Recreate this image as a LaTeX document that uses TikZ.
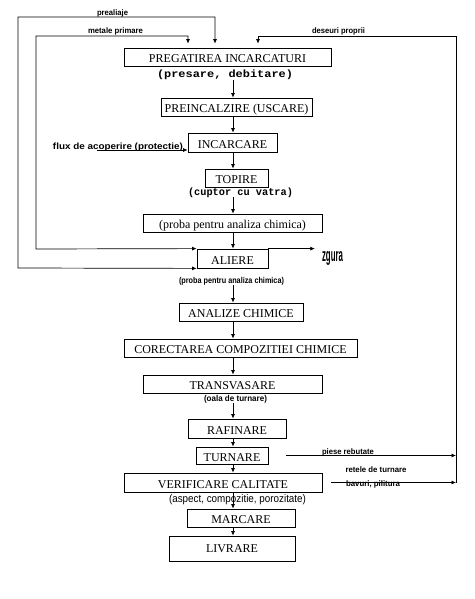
\documentclass[tikz,border=0pt]{standalone}
\usepackage{fontspec}
\setmainfont{Liberation Serif}
\newfontfamily\lsans{Liberation Sans}
\newfontfamily\lmono{Liberation Mono}
\usetikzlibrary{arrows.meta}
\newcommand\fitw[2]{\resizebox{#1}{\height}{#2}}
\begin{document}
\begin{tikzpicture}[x=1pt,y=-1pt,
  box/.style={draw, line width=0.8pt, inner sep=0pt, text height=11pt, text depth=0pt,
    font=\fontsize{12}{12}\selectfont},
  lbl/.style={inner sep=0pt, anchor=base, font=\lsans\bfseries\fontsize{8}{8}\selectfont},
  arr/.style={line width=0.7pt, -{Latex[length=4.5pt,width=4pt]}},
  darr/.style={line width=0.7pt, {Latex[length=4.5pt,width=4pt]}-{Latex[length=4.5pt,width=4pt]}},
]
\useasboundingbox (0,0) rectangle (474,599);
\fill[white] (0,0) rectangle (474,599);

% boxes
\node[box, minimum width=207pt, minimum height=18pt] (preg) at (227.5,57) {PREGATIREA INCARCATURI};
\node[box, minimum width=151pt, minimum height=18pt] (prein) at (236.5,107) {PREINCALZIRE (USCARE)};
\node[box, minimum width=89pt, minimum height=19pt] (incarc) at (232.5,142.5) {INCARCARE};
\node[box, minimum width=63pt, minimum height=18pt] (topire) at (236.5,178) {TOPIRE};
\node[box, minimum width=179pt, minimum height=18pt] (proba) at (232.5,223) {(proba pentru analiza chimica)};
\node[box, minimum width=71pt, minimum height=19pt] (aliere) at (232.5,258.5) {ALIERE};
\node[box, minimum width=124pt, minimum height=18pt] (analize) at (241,312) {ANALIZE CHIMICE};
\node[box, minimum width=233pt, minimum height=18pt] (corect) at (240.5,348) {CORECTAREA COMPOZITIEI CHIMICE};
\node[box, minimum width=179pt, minimum height=18pt] (transv) at (232.5,384) {TRANSVASARE};
\node[box, minimum width=98pt, minimum height=19pt] (rafin) at (237,428.5) {RAFINARE};
\node[box, minimum width=72pt, minimum height=17pt] (turnare) at (232,455.5) {TURNARE};
\node[box, minimum width=198pt, minimum height=19pt] (verif) at (223,482.5) {VERIFICARE CALITATE};
\node[box, minimum width=108pt, minimum height=18pt] (marcare) at (241,518) {MARCARE};
\node[box, minimum width=126pt, minimum height=25pt, text height=8pt] (livrare) at (232,548.5) {LIVRARE};

% labels
\node[lbl, font=\lmono\bfseries\fontsize{10.5}{10.5}\selectfont] (presare) at (225,78) {\fitw{136pt}{(presare, debitare)}};
\node[lbl, font=\lmono\bfseries\fontsize{10.5}{10.5}\selectfont] (cuptor) at (240.5,195) {\fitw{105pt}{(cuptor cu vatra)}};
\node[lbl, font=\lsans\bfseries\fontsize{8.5}{8.5}\selectfont] (probalbl) at (231.5,283) {\fitw{105pt}{(proba pentru analiza chimica)}};
\node[lbl, font=\lsans\bfseries\fontsize{8.5}{8.5}\selectfont] (oala) at (235.5,401) {\fitw{63pt}{(oala de turnare)}};
\node[lbl, font=\lsans\fontsize{11}{11}\selectfont] (aspect) at (237.5,502) {\fitw{137pt}{(aspect, compozitie, porozitate)}};
\node[lbl] (prealiaje) at (112.5,15.5) {\fitw{31pt}{prealiaje}};
\node[lbl] (metale) at (115.5,33.5) {\fitw{55pt}{metale primare}};
\node[lbl] (deseuri) at (338.5,34) {\fitw{53pt}{deseuri proprii}};
\node[lbl, font=\lsans\bfseries\fontsize{9}{9}\selectfont] (flux) at (118,149) {\fitw{130pt}{flux de acoperire (protectie)}};
\node[lbl] (piese) at (348,454) {\fitw{52pt}{piese rebutate}};
\node[lbl] (retele) at (376,472.5) {\fitw{61pt}{retele de turnare}};
\node[lbl] (bavuri) at (373,486.5) {\fitw{54pt}{bavuri, pilitura}};
\node[lbl, font=\lsans\bfseries\fontsize{12}{12}\selectfont] (zgura) at (332.5,261) {\resizebox{21pt}{10pt}{zgura}};

% spine arrows
\coordinate (sp) at (233,0);
\draw[arr] (presare.south -| sp) -- (prein.north -| sp);
\draw[arr] (prein.south -| sp) -- (incarc.north -| sp);
\draw[arr] (incarc.south -| sp) -- (topire.north -| sp);
\draw[arr] (cuptor.south -| sp) -- (proba.north -| sp);
\draw[arr] (proba.south -| sp) -- (aliere.north -| sp);
\draw[arr] (probalbl.south -| sp) -- (analize.north -| sp);
\draw[arr] (analize.south -| sp) -- (corect.north -| sp);
\draw[arr] (corect.south -| sp) -- (transv.north -| sp);
\draw[arr] (oala.south -| sp) -- (rafin.north -| sp);
\draw[arr] (rafin.south -| sp) -- (turnare.north -| sp);
\draw[arr] (turnare.south -| sp) -- (verif.north -| sp);
\draw[arr] (verif.south -| sp) -- (marcare.north -| sp);
\draw[arr] (marcare.south -| sp) -- (livrare.north -| sp);

% feed lines
\coordinate (pa1) at (215,17);
\coordinate (pa2) at (18,17);
\coordinate (pa3) at (18,268);
\draw[darr, shorten <=4pt] (preg.north -| pa1) -- (pa1) -- (pa2) -- (pa3) -- (aliere.south west);
\coordinate (mp1) at (188,36);
\coordinate (mp2) at (36,36);
\coordinate (mp3) at (36,249);
\draw[darr, shorten <=4pt] (preg.north -| mp1) -- (mp1) -- (mp2) -- (mp3) -- (aliere.north west);
\coordinate (dp1) at (258,36);
\coordinate (dp2) at (456,36);
\coordinate (dp3) at (456,483);
\draw[arr, shorten >=4pt] (dp3) -- (dp2) -- (dp1) -- (preg.north -| dp1);
\draw[arr] ([xshift=18pt]turnare.east) -- (turnare.east -| dp2);
\draw[arr] ([xshift=9pt]verif.east) -- (verif.east -| dp2);
\coordinate (fx) at (97,150);
\draw[arr] (fx) -- (fx -| incarc.west);
\draw[arr, shorten >=7pt] (aliere.north east) -- (zgura.west |- aliere.north);
\end{tikzpicture}
\end{document}
